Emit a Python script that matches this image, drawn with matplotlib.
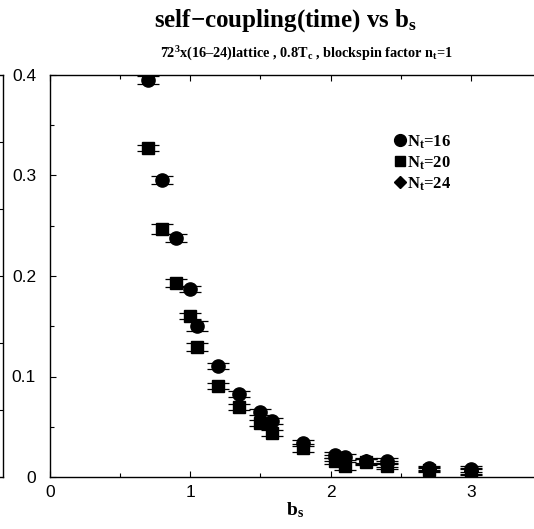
import matplotlib
matplotlib.use("Agg")

import matplotlib.pyplot as plt
from matplotlib.lines import Line2D
from matplotlib.ticker import MultipleLocator


# data
bs_16 = [0.70, 0.80, 0.90, 1.00, 1.05, 1.20, 1.35, 1.50, 1.58, 1.80,
         2.03, 2.10, 2.25, 2.40, 2.70, 3.00]
coup_16 = [0.395, 0.296, 0.238, 0.187, 0.150, 0.110, 0.083, 0.065, 0.056, 0.034,
           0.022, 0.020, 0.016, 0.016, 0.009, 0.008]
err_16 = [0.004, 0.004, 0.004, 0.003, 0.005, 0.003, 0.003, 0.003, 0.003, 0.003,
          0.003, 0.003, 0.003, 0.003, 0.002, 0.003]

bs_20 = [0.70, 0.80, 0.90, 1.00, 1.05, 1.20, 1.35, 1.50, 1.58, 1.80,
         2.03, 2.10, 2.25, 2.40, 2.70, 3.00]
coup_20 = [0.327, 0.247, 0.193, 0.160, 0.129, 0.091, 0.070, 0.054, 0.044, 0.029,
           0.016, 0.011, 0.015, 0.011, 0.007, 0.005]
err_20 = [0.003, 0.005, 0.004, 0.003, 0.004, 0.003, 0.003, 0.003, 0.003, 0.004,
          0.003, 0.004, 0.003, 0.003, 0.002, 0.003]

bs_24 = [2.03, 2.25, 2.40, 2.70, 3.00]
coup_24 = [0.019, 0.016, 0.013, 0.008, 0.006]
err_24 = [0.003, 0.002, 0.003, 0.002, 0.003]

labels = [r"N$_\mathbf{t}$=16", r"N$_\mathbf{t}$=20", r"N$_\mathbf{t}$=24"]

plt.rcParams["font.family"] = ["Liberation Sans", "DejaVu Sans"]
plt.rcParams["mathtext.fontset"] = "custom"
plt.rcParams["mathtext.rm"] = "Liberation Serif"
plt.rcParams["mathtext.bf"] = "Liberation Serif:bold"
plt.rcParams["mathtext.it"] = "Liberation Serif:italic"

fig = plt.figure(figsize=(5.34, 5.29), dpi=100)

# leftover frame of a neighbouring panel at the very left edge
bg = fig.add_axes([-0.5, 52 / 529, 0.5 + 3 / 534, 402 / 529])
bg.set_xlim(0, 1)
bg.set_ylim(0, 6)
bg.set_xticks([])
bg.set_yticks([1, 2, 3, 4, 5])
bg.yaxis.tick_right()
bg.tick_params(axis="y", direction="in", length=3, labelright=False, width=0.8)
for s in bg.spines.values():
    s.set_linewidth(1.0)

ax = fig.add_axes([50 / 534, 52 / 529, 491 / 534, 402 / 529])

ax.errorbar(bs_16, coup_16, yerr=err_16, fmt="o", color="black",
            markersize=9.5, capsize=8, elinewidth=0.9, capthick=0.9, zorder=3)
ax.errorbar(bs_20, coup_20, yerr=err_20, fmt="s", color="black",
            markersize=8, capsize=8, elinewidth=0.9, capthick=0.9, zorder=3)
ax.errorbar(bs_24, coup_24, yerr=err_24, fmt="D", color="black",
            markersize=7, capsize=8, elinewidth=0.9, capthick=0.9, zorder=2)

ax.set_xlim(0, 3.5)
ax.set_ylim(0, 0.4)
ax.xaxis.set_major_locator(MultipleLocator(1))
ax.xaxis.set_minor_locator(MultipleLocator(0.5))
ax.yaxis.set_major_locator(MultipleLocator(0.1))
ax.yaxis.set_minor_locator(MultipleLocator(0.05))
ax.tick_params(which="both", direction="in", top=True, right=True,
               labelsize=12.5, width=0.8)
ax.tick_params(which="major", length=4)
ax.tick_params(which="minor", length=3)
ax.tick_params(axis="y", pad=10)
ax.tick_params(axis="x", pad=6)
ax.yaxis.set_major_formatter(plt.FuncFormatter(lambda v, p: "0" if v == 0 else f"{v:.1f}"))
ax.xaxis.set_major_formatter(plt.FuncFormatter(lambda v, p: f"{v:.0f}"))
for s in ax.spines.values():
    s.set_linewidth(1.0)

ax.set_xlabel(r"$\mathbf{b_s}$", fontsize=14, labelpad=0)

handles = [
    Line2D([], [], marker="o", color="black", linestyle="none", markersize=8.5),
    Line2D([], [], marker="s", color="black", linestyle="none", markersize=7.5),
    Line2D([], [], marker="D", color="black", linestyle="none", markersize=6.5),
]
ax.legend(handles, labels, loc="upper left", bbox_to_anchor=(0.69, 0.872),
          frameon=False, handlelength=0.6, handletextpad=0.1,
          labelspacing=0.22, borderaxespad=0,
          prop={"family": "Liberation Serif", "weight": "bold", "size": 12})

fig.text(0.534, 0.962, r"self−coupling(time) vs b$_\mathbf{s}$",
         ha="center", va="center", fontsize=18, fontweight="bold",
         family="Liberation Serif")
fig.text(0.574, 0.898,
         r"72$^\mathbf{3}$x(16–24)lattice , 0.8T$_\mathbf{c}$ , blockspin factor n$_\mathbf{t}$=1",
         ha="center", va="center", fontsize=10.3, fontweight="bold",
         family="Liberation Serif")

fig.savefig("out.png", dpi=100)
plt.close(fig)
